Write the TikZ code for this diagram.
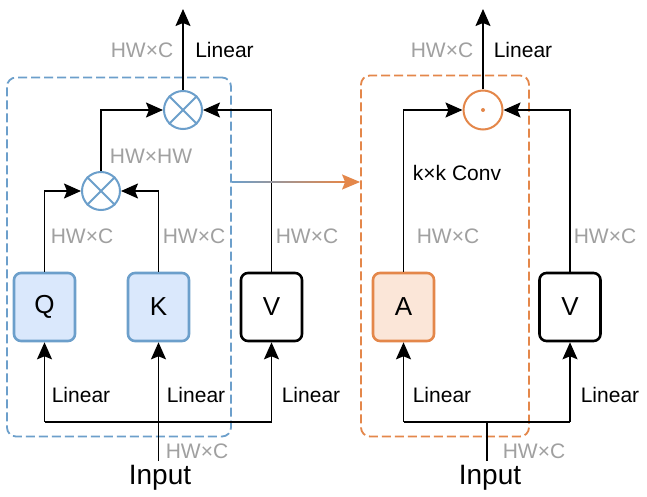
\documentclass[tikz,border=0pt]{standalone}
\usepackage{fontspec}
\setmainfont{Liberation Sans}
\usetikzlibrary{arrows.meta,calc}
\definecolor{bstroke}{HTML}{6C9FCB}
\definecolor{bfill}{HTML}{DAE8FC}
\definecolor{ostroke}{HTML}{E4874A}
\definecolor{ofill}{HTML}{FBE6D8}
\definecolor{gtext}{HTML}{A0A0A0}
\tikzset{
  arr/.style={line width=1.6pt,-{Stealth[length=17pt,width=15pt,inset=3pt]}},
  ln/.style={line width=1.6pt},
  box/.style={draw,line width=2.6pt,rounded corners=7pt,minimum width=61pt,minimum height=68pt,inner sep=0pt,font=\fontsize{26}{30}\selectfont},
  qbox/.style={box,draw=bstroke,fill=bfill},
  abox/.style={box,draw=ostroke,fill=ofill},
  vbox/.style={box,draw=black,fill=white},
  mult/.style={circle,draw=bstroke,line width=2pt,minimum size=38pt,inner sep=0pt},
  odot/.style={circle,draw=ostroke,line width=2pt,minimum size=39pt,inner sep=0pt},
  glab/.style={text=gtext,font=\fontsize{21}{24}\selectfont,inner sep=0pt},
  blab/.style={text=black,font=\fontsize{21}{24}\selectfont,inner sep=0pt},
  inlab/.style={text=black,font=\fontsize{28}{32}\selectfont,inner sep=0pt,anchor=base},
  dbox/.style={draw,line width=1.8pt,dash pattern=on 9pt off 4pt,rounded corners=9pt,inner sep=0pt},
}
\begin{document}
\begin{tikzpicture}[x=1pt,y=-1pt]
\useasboundingbox[fill=white] (0,0) rectangle (647,497);

% ---------- dashed group boxes ----------
\node[dbox,draw=bstroke,minimum width=224pt,minimum height=359pt] (lgrp) at (119,257) {};
\node[dbox,draw=ostroke,minimum width=168pt,minimum height=361pt] (rgrp) at (445,256) {};

% ---------- left panel ----------
\node[qbox] (Q) at (44.5,307) {Q};
\node[qbox] (K) at (158.5,307) {K};
\node[vbox] (V) at (271.5,307) {V};
\node[mult] (m2) at (101,191) {};
\node[mult] (m1) at (183,110) {};
\draw[bstroke,line width=2pt] (m2.north east) -- (m2.south west) (m2.north west) -- (m2.south east);
\draw[bstroke,line width=2pt] (m1.north east) -- (m1.south west) (m1.north west) -- (m1.south east);
\coordinate (out1) at (183,9);
\coordinate (busL) at (0,422);
\coordinate (inL) at (158.5,461);

\draw[arr] (Q.north) |- (m2.west);
\draw[arr] (K.north) |- (m2.east);
\draw[arr] (m2.north) |- (m1.west);
\draw[arr] (V.north) |- (m1.east);
\draw[arr] (m1.north) -- (out1);
\draw[ln] (Q.south |- busL) -- (V.south |- busL);
\draw[arr] (Q.south |- busL) -- (Q.south);
\draw[arr] (V.south |- busL) -- (V.south);
\draw[arr] (inL) -- (K.south);

\node[glab] (l1) at (142,50) {HW×C};
\node[blab] (l2) at (224.5,50) {Linear};
\node[glab] (l3) at (151,156) {HW×HW};
\node[glab] (l4) at (82,236) {HW×C};
\node[glab] (l5) at (194,236) {HW×C};
\node[glab] (l6) at (307,236) {HW×C};
\node[blab] (l7) at (81,395) {Linear};
\node[blab] (l8) at (196,395) {Linear};
\node[blab] (l9) at (311,395) {Linear};
\node[glab] (l10) at (197,451) {HW×C};
\node[inlab] (in1) at (160,484) {Input};

% ---------- right panel ----------
\node[abox] (A) at (403.5,307) {A};
\node[vbox] (V2) at (570,307) {V};
\node[odot] (d) at (483,110) {};
\fill[ostroke] (d.center) circle (2pt);
\coordinate (out2) at (483,9);
\coordinate (busR) at (0,422);
\coordinate (inR) at (487,461);

\draw[arr] (A.north) |- (d.west);
\draw[arr] (V2.north) |- (d.east);
\draw[arr] (d.north) -- (out2);
\draw[ln] (A.south |- busR) -- (V2.south |- busR);
\draw[arr] (A.south |- busR) -- (A.south);
\draw[arr] (V2.south |- busR) -- (V2.south);
\draw[ln] (inR) -- (inR |- busR);

\node[glab] (r1) at (442,50) {HW×C};
\node[blab] (r2) at (523,50) {Linear};
\node[blab] (r3) at (457,173) {k×k Conv};
\node[glab] (r4) at (448,236) {HW×C};
\node[glab] (r5) at (605,236) {HW×C};
\node[blab] (r7) at (442,395) {Linear};
\node[blab] (r8) at (610,395) {Linear};
\node[glab] (r10) at (534,451) {HW×C};
\node[inlab] (in2) at (490,484) {Input};

% ---------- connector between panels ----------
\coordinate (mid) at (0,182);
\draw[ostroke,line width=1.6pt,-{Stealth[length=18pt,width=15pt,inset=3pt]}] (lgrp.east |- mid) -- (rgrp.west |- mid);
\shade[left color=bstroke,right color=ostroke] ($(lgrp.east |- mid)+(0,-0.8)$) rectangle ($(rgrp.west |- mid)+(-16,0.8)$);
\end{tikzpicture}
\end{document}
